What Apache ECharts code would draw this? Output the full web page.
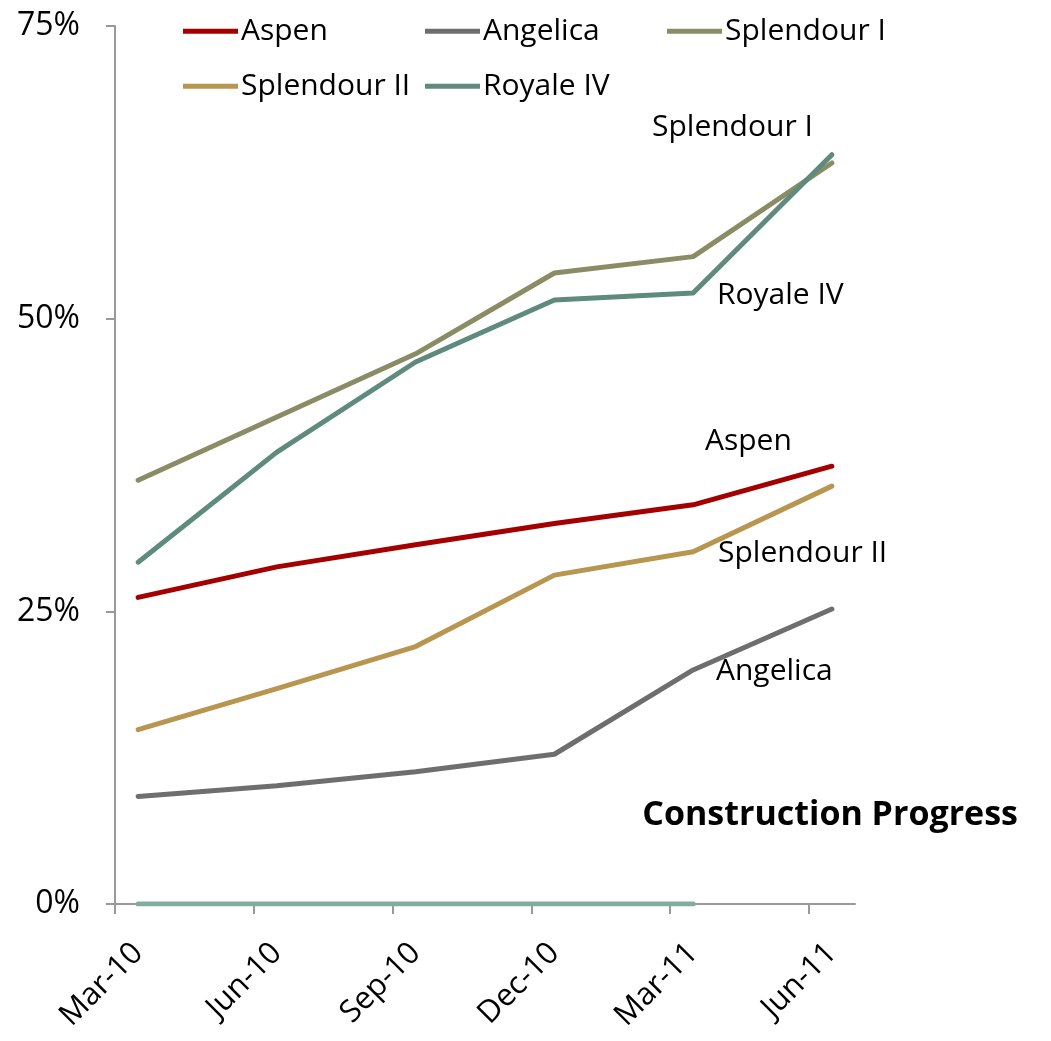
<!doctype html>
<html>
<head>
    <title>Construction Progress</title>
    <script src="https://cdn.jsdelivr.net/npm/echarts@6/dist/echarts.min.js"></script>
</head>
<style>
    html, body { margin: 0; padding: 0; background: #fff; }
    #chart { width: 1051px; height: 1041px; }
</style>
<body>
<div id="chart"></div>
<script>
  // one category per month, labels shown every quarter
  var months = ['Mar-10', 'Apr-10', 'May-10', 'Jun-10', 'Jul-10', 'Aug-10', 'Sep-10', 'Oct-10',
    'Nov-10', 'Dec-10', 'Jan-11', 'Feb-11', 'Mar-11', 'Apr-11', 'May-11', 'Jun-11'];
  var quarters = ['Mar-10', 'Jun-10', 'Sep-10', 'Dec-10', 'Mar-11', 'Jun-11'];
  // month boundaries, used only to place the quarter ticks
  var monthStarts = months.concat(['Jul-11']);

  var aspen = [26.2, 28.8, 30.7, 32.5, 34.1, 37.4];
  var angelica = [9.2, 10.1, 11.3, 12.8, 20.0, 25.2];
  var splendour1 = [36.2, 41.6, 47.0, 53.9, 55.3, 63.3];
  var splendour2 = [14.9, 18.4, 22.0, 28.1, 30.1, 35.7];
  var royale4 = [29.2, 38.6, 46.3, 51.6, 52.2, 64.0];
  var royaleStart = [0, 0, 0, 0, 0];

  var FONT = 'Open Sans';

  function toMonths(vals) {
    var out = months.map(function () { return null; });
    vals.forEach(function (v, i) {
      out[months.indexOf(quarters[i])] = v;
    });
    return out;
  }

  function line(name, vals, color) {
    return {
      name: name,
      type: 'line',
      data: toMonths(vals),
      connectNulls: true,
      symbol: 'none',
      lineStyle: { color: color, width: 5, cap: 'round', join: 'round' },
      itemStyle: { color: color },
      z: 3
    };
  }

  function legendAt(name, left, top) {
    return {
      data: [name],
      left: left,
      top: top,
      icon: 'rect',
      itemWidth: 55,
      itemHeight: 5,
      padding: 0,
      selectedMode: false,
      textStyle: { fontFamily: FONT, fontSize: 30, color: '#000', padding: [0, 0, 0, -2] }
    };
  }

  function note(text, x, y) {
    return {
      type: 'text',
      x: x,
      y: y,
      style: { text: text, font: '30px "' + FONT + '"', fill: '#000', verticalAlign: 'middle' }
    };
  }

  var chart = echarts.init(document.getElementById('chart'));

  var option = {
    animation: false,
    grid: { left: 115, right: 196, top: 22, bottom: 136 },
    legend: [
      legendAt('Aspen', 183, 7),
      legendAt('Angelica', 425, 7),
      legendAt('Splendour I', 667, 7),
      legendAt('Splendour II', 183, 62),
      legendAt('Royale IV', 425, 62)
    ],
    xAxis: [{
      type: 'category',
      data: months,
      boundaryGap: true,
      axisLine: { lineStyle: { color: '#999', width: 2 } },
      axisTick: { show: false },
      axisLabel: {
        interval: 2,
        rotate: 45,
        margin: 44,
        fontFamily: FONT,
        fontSize: 31,
        color: '#000'
      }
    }, {
      type: 'category',
      data: monthStarts,
      position: 'bottom',
      boundaryGap: false,
      axisLine: { show: false },
      axisLabel: { show: false },
      axisTick: { show: true, interval: 2, length: 10, lineStyle: { color: '#999', width: 2 } }
    }],
    yAxis: {
      type: 'value',
      min: 0,
      max: 75,
      interval: 25,
      axisLine: { show: true, lineStyle: { color: '#999', width: 2 } },
      axisTick: { show: true, length: 9, lineStyle: { color: '#999', width: 2 } },
      splitLine: { show: false },
      axisLabel: {
        formatter: '{value}%',
        margin: 35,
        fontFamily: FONT,
        fontSize: 32,
        color: '#000'
      }
    },
    graphic: [
      note('Splendour I', 652, 127),
      note('Royale IV', 717, 295),
      note('Aspen', 705, 441),
      note('Splendour II', 718, 553),
      note('Angelica', 716, 671),
      {
        type: 'text',
        right: 33,
        top: 784,
        style: { text: 'Construction Progress', font: 'bold 34px "' + FONT + '"', fill: '#000' }
      }
    ],
    series: [
      line('Aspen', aspen, '#a50000'),
      line('Angelica', angelica, '#6e6e6e'),
      line('Splendour I', splendour1, '#898c64'),
      line('Splendour II', splendour2, '#b8964f'),
      line('Royale IV', royale4, '#5f8a7e'),
      line('Royale IV start', royaleStart, '#80ad9f')
    ]
  };

  chart.setOption(option);
</script>
</body>
</html>
